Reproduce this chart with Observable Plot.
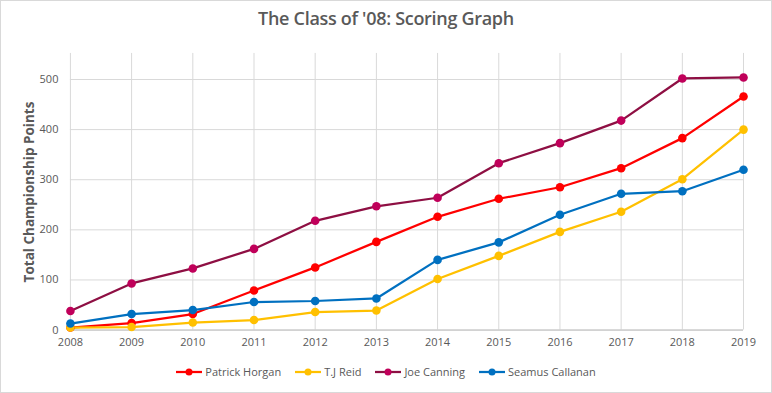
<!DOCTYPE html>
<html><head><meta charset="utf-8">
<script src="https://cdn.jsdelivr.net/npm/d3@7"></script>
<script src="https://cdn.jsdelivr.net/npm/@observablehq/plot@0.6"></script>
<style>
html,body{margin:0;padding:0;background:#fff;}
#wrap{position:relative;width:770px;height:391px;border:1px solid #d9d9d9;font-family:"Open Sans",sans-serif;overflow:hidden;}
#title{position:absolute;left:0;right:0;top:5px;text-align:center;font-size:18px;font-weight:600;color:#595959;letter-spacing:-0.3px;}
#ylab{position:absolute;left:28px;top:191px;transform:translate(-50%,-50%) rotate(-90deg);white-space:nowrap;font-size:13.5px;font-weight:700;color:#595959;}
#chart{position:absolute;left:-1px;top:-1px;}
#legend{position:absolute;left:0;right:0;top:363px;display:flex;justify-content:center;gap:14px;font-size:11px;color:#595959;padding-left:0px;}
.item{display:flex;align-items:center;gap:3px;}
</style></head><body>
<div id="wrap">
<div id="chart"></div>
<div id="title">The Class of '08: Scoring Graph</div>
<div id="ylab">Total Championship Points</div>
<div id="legend"></div>
</div>
<script>
const years = [2008,2009,2010,2011,2012,2013,2014,2015,2016,2017,2018,2019];
const patrickHorgan   = [5,14,32,79,125,176,226,262,285,323,383,466];
const tjReid          = [5,6,15,20,36,39,102,148,196,236,301,400];
const joeCanning      = [38,93,123,162,218,247,264,333,373,418,502,504];
const seamusCallanan  = [13,32,40,56,58,63,140,175,230,272,277,320];
const yTicks = [0,100,200,300,400,500];

const seriesNames = ["Patrick Horgan","T.J Reid","Joe Canning","Seamus Callanan"];
const seriesValues = [patrickHorgan, tjReid, joeCanning, seamusCallanan];
const lineColors = ["#FF0000","#FFC000","#8E0F43","#0070C0"];
const dotColors  = ["#FF0000","#FFC000","#C0005A","#0070C0"];

const data = [];
seriesNames.forEach((name,i)=>years.forEach((y,j)=>data.push({player:name, year:y, points:seriesValues[i][j]})));

const chart = Plot.plot({
  width: 772, height: 393,
  marginTop: 53, marginBottom: 63, marginLeft: 70, marginRight: 28,
  style: {fontFamily: "'Open Sans',sans-serif", fontSize: "11px", color: "#595959", background: "transparent"},
  x: {domain: [2008,2019], ticks: years, tickFormat: "d", label: null, tickSize: 0, tickPadding: 8},
  y: {domain: [0,552], ticks: yTicks, label: null, tickSize: 0, tickPadding: 12},
  color: {domain: seriesNames, range: lineColors},
  marks: [
    Plot.gridX(years, {stroke: "#d9d9d9", strokeOpacity: 1, strokeWidth: 1}),
    Plot.gridY(yTicks, {stroke: "#d9d9d9", strokeOpacity: 1, strokeWidth: 1}),
    Plot.ruleY([0], {stroke: "#bfbfbf", strokeWidth: 1}),
    Plot.axisX({ticks: years, tickFormat: "d", tickSize: 0, tickPadding: 8, fill: "#595959"}),
    Plot.axisY({ticks: yTicks, tickSize: 0, tickPadding: 12, fill: "#595959"}),
    Plot.line(data, {x: "year", y: "points", z: "player", stroke: "player", strokeWidth: 2.25}),
    Plot.dot(data, {x: "year", y: "points", fill: d => dotColors[seriesNames.indexOf(d.player)], r: 4.3, stroke: "none"})
  ]
});
document.getElementById("chart").appendChild(chart);

const legend = document.getElementById("legend");
seriesNames.forEach((n,i)=>{
  const it = document.createElement("div"); it.className="item";
  it.innerHTML = `<svg width="26" height="10"><line x1="0" y1="5" x2="26" y2="5" stroke="${lineColors[i]}" stroke-width="2.25"/><circle cx="13" cy="5" r="3.5" fill="${dotColors[i]}"/></svg><span>${n}</span>`;
  legend.appendChild(it);
});
</script>
</body></html>
